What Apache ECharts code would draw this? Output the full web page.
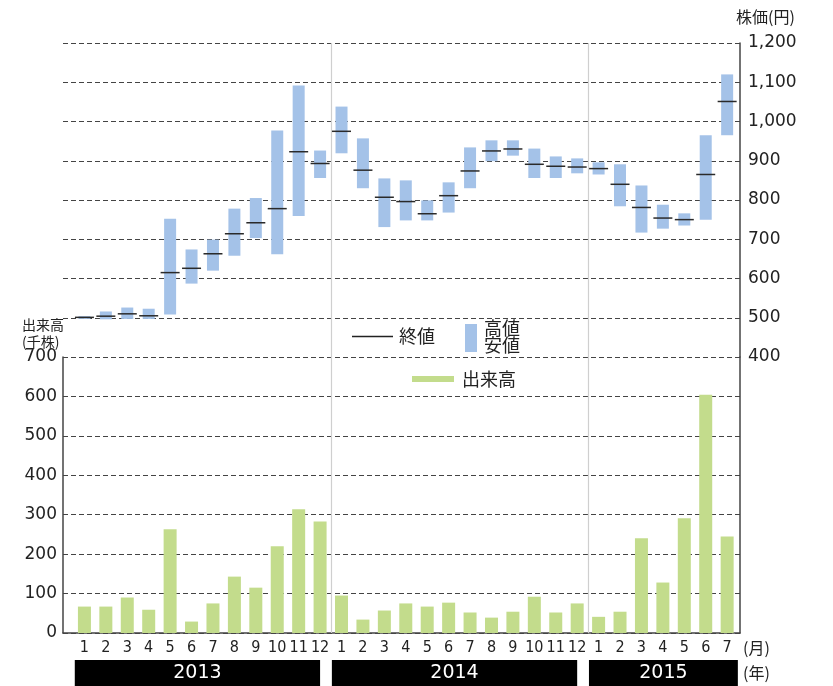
<!DOCTYPE html>
<html><head><meta charset="utf-8">
<script src="https://cdn.jsdelivr.net/npm/echarts@6/dist/echarts.min.js"></script>
<style>html,body{margin:0;padding:0;background:#fff}#c{width:833px;height:686px}</style>
</head><body><div id="c"></div>
<script>
// ---- data ----
const months = ['1','2','3','4','5','6','7','8','9','10','11','12',
                '1','2','3','4','5','6','7','8','9','10','11','12',
                '1','2','3','4','5','6','7'];
const years = ['2013','2014','2015'];
const yearMonths = [12, 12, 7];
const high  = [504,516,526,523,752,674,699,778,805,977,1092,926,1038,957,855,850,799,845,934,952,952,931,911,906,896,891,837,788,766,965,1120];
const low   = [497,496,497,497,508,587,620,658,703,662,759,856,919,830,731,748,748,768,830,899,913,856,856,868,865,784,717,727,735,750,965];
const close = [501,504,510,505,615,626,663,714,742,778,923,893,975,876,807,796,765,811,874,925,930,891,886,884,880,840,781,754,750,865,1051];
const volume = [67,67,90,59,263,29,75,143,115,220,314,283,95,34,57,75,67,77,52,39,54,92,52,75,41,54,240,128,291,604,245];
const priceTicks = {min: 400, max: 1200, interval: 100};
const volumeTicks = {min: 0, max: 700, interval: 100};

// ---- derived ----
const hlData = months.map((m, i) => [i, high[i], low[i]]);
const closeData = months.map((m, i) => [i, close[i]]);
const volData = months.map((m, i) => [i, volume[i]]);
const boundaries = [];
const yearBoxes = [];
let acc = 0;
years.forEach((y, k) => {
  const first = acc, last = acc + yearMonths[k] - 1;
  acc += yearMonths[k];
  if (k < years.length - 1) boundaries.push([acc - 0.5]);
  yearBoxes.push([first, last, y]);
});
const boxData = yearBoxes.map((b, k) => {
  const start = b[0] - 0.45;
  const end = k < yearBoxes.length - 1 ? yearBoxes[k + 1][0] - 0.45 - 0.55 : b[1] + 0.5;
  return [start, end, b[2]];
});

const BLUE = '#a4c2e8', GREEN = '#c3dc8c', AX = '#444';
const LATIN = "'DejaVu Sans', 'Noto Sans CJK JP', sans-serif";
const CJK = "'Noto Sans CJK JP', sans-serif";
const XMIN = -1, XMAX = 30.6;
const dash = {color: AX, width: 1, type: [5, 3]};
const axLine = {show: true, onZero: false, lineStyle: {color: AX, width: 1.5}};

const chart = echarts.init(document.getElementById('c'), null, {renderer: 'canvas'});
chart.setOption({
  animation: false,
  backgroundColor: '#fff',
  grid: [
    {left: 63, top: 43, width: 677, height: 314, outerBoundsMode: 'none'},
    {left: 63, top: 357, width: 677, height: 276, outerBoundsMode: 'none'},
    {left: 63, top: 660, width: 677, height: 26, outerBoundsMode: 'none'}
  ],
  xAxis: [
    {gridIndex: 0, type: 'value', min: XMIN, max: XMAX, show: false},
    {gridIndex: 1, type: 'value', min: XMIN, max: XMAX, interval: 1, position: 'bottom',
      axisLine: axLine,
      axisTick: {show: false}, splitLine: {show: false},
      axisLabel: {margin: 7, color: '#222', fontSize: 16,
        fontFamily: "'Liberation Sans Narrow', 'DejaVu Sans Condensed', 'Roboto Condensed', 'Noto Sans', sans-serif",
        showMinLabel: true, showMaxLabel: true, hideOverlap: false,
        formatter: v => (Number.isInteger(v) && v >= 0 && v < months.length) ? months[v] : ''}},
    {gridIndex: 2, type: 'value', min: XMIN, max: XMAX, show: false}
  ],
  yAxis: [
    {gridIndex: 0, type: 'value', position: 'right', min: priceTicks.min, max: priceTicks.max, interval: priceTicks.interval,
      axisLine: axLine, axisTick: {show: false},
      splitLine: {show: true, lineStyle: dash},
      axisLabel: {margin: 8, color: '#222', fontSize: 17, fontFamily: LATIN,
        formatter: v => v.toLocaleString('en-US')}},
    {gridIndex: 1, type: 'value', position: 'left', min: volumeTicks.min, max: volumeTicks.max, interval: volumeTicks.interval,
      axisLine: axLine, axisTick: {show: false},
      splitLine: {show: true, lineStyle: dash},
      axisLabel: {margin: 6, color: '#222', fontSize: 17, fontFamily: LATIN}},
    {gridIndex: 1, type: 'value', position: 'right', min: volumeTicks.min, max: volumeTicks.max,
      axisLine: axLine, axisTick: {show: false},
      splitLine: {show: false}, axisLabel: {show: false}},
    {gridIndex: 2, type: 'value', min: 0, max: 1, show: false}
  ],
  series: [
    {type: 'custom', name: 'sep0', xAxisIndex: 0, yAxisIndex: 0, data: boundaries, z: 1, silent: true,
      renderItem: (params, api) => {
        const cs = params.coordSys;
        const x = Math.round(api.coord([api.value(0), priceTicks.min])[0]) + 0.5;
        return {type: 'line', shape: {x1: x, y1: cs.y, x2: x, y2: cs.y + cs.height},
          style: {stroke: '#cfcfcf', lineWidth: 1.2}};
      }},
    {type: 'custom', name: 'sep1', xAxisIndex: 1, yAxisIndex: 1, data: boundaries, z: 1, silent: true,
      renderItem: (params, api) => {
        const cs = params.coordSys;
        const x = Math.round(api.coord([api.value(0), 0])[0]) + 0.5;
        return {type: 'line', shape: {x1: x, y1: cs.y, x2: x, y2: cs.y + cs.height},
          style: {stroke: '#cfcfcf', lineWidth: 1.2}};
      }},
    {type: 'custom', name: '高値安値', xAxisIndex: 0, yAxisIndex: 0, data: hlData, z: 3,
      encode: {x: 0, y: [1, 2]},
      renderItem: (params, api) => {
        const p1 = api.coord([api.value(0), api.value(1)]);
        const p2 = api.coord([api.value(0), api.value(2)]);
        return {type: 'rect', shape: {x: p1[0] - 6, y: p1[1], width: 12, height: p2[1] - p1[1]},
          style: {fill: BLUE}};
      }},
    {type: 'custom', name: '終値', xAxisIndex: 0, yAxisIndex: 0, data: closeData, z: 4,
      encode: {x: 0, y: 1},
      renderItem: (params, api) => {
        const p = api.coord([api.value(0), api.value(1)]);
        return {type: 'line', shape: {x1: p[0] - 9.5, y1: p[1], x2: p[0] + 9.5, y2: p[1]},
          style: {stroke: '#2a2a2a', lineWidth: 1.5}};
      }},
    {type: 'bar', name: '出来高', xAxisIndex: 1, yAxisIndex: 1, data: volData, barWidth: 13, z: 3,
      itemStyle: {color: GREEN}},
    {type: 'custom', name: 'years', xAxisIndex: 2, yAxisIndex: 3, data: boxData, silent: true,
      renderItem: (params, api) => {
        const a = api.coord([api.value(0), 1]);
        const b = api.coord([api.value(1), 0]);
        const name = boxData[params.dataIndex][2];
        return {type: 'group', children: [
          {type: 'rect', shape: {x: a[0], y: a[1], width: b[0] - a[0], height: b[1] - a[1]}, style: {fill: '#000'}},
          {type: 'text', style: {text: name, x: (a[0] + b[0]) / 2, y: (a[1] + b[1]) / 2 + 0.5,
            align: 'center', verticalAlign: 'middle', textAlign: 'center', textVerticalAlign: 'middle',
            fill: '#fff', font: '19px ' + LATIN}}
        ]};
      }}
  ],
  graphic: [
    {type: 'text', x: 736, y: 17, style: {text: '株価(円)', font: '16px ' + CJK, fill: '#222', verticalAlign: 'middle', textVerticalAlign: 'middle'}},
    {type: 'text', x: 22, y: 316, style: {text: '出来高\n(千株)', font: '14px ' + CJK, lineHeight: 17, fill: '#222'}},
    {type: 'line', shape: {x1: 352, y1: 336.5, x2: 393, y2: 336.5}, style: {stroke: '#222', lineWidth: 1.5}},
    {type: 'text', x: 399, y: 336, style: {text: '終値', font: '18px ' + CJK, fill: '#222', verticalAlign: 'middle', textVerticalAlign: 'middle'}},
    {type: 'rect', shape: {x: 465, y: 324, width: 12, height: 28}, style: {fill: BLUE}},
    {type: 'text', x: 484, y: 320, style: {text: '高値\n安値', font: '18px ' + CJK, lineHeight: 17, fill: '#222'}},
    {type: 'rect', shape: {x: 412, y: 376, width: 42, height: 6}, style: {fill: GREEN}},
    {type: 'text', x: 462, y: 379, style: {text: '出来高', font: '18px ' + CJK, fill: '#222', verticalAlign: 'middle', textVerticalAlign: 'middle'}},
    {type: 'text', x: 743, y: 648, style: {text: '(月)', font: '16px ' + CJK, fill: '#222', verticalAlign: 'middle', textVerticalAlign: 'middle'}},
    {type: 'text', x: 743, y: 673, style: {text: '(年)', font: '16px ' + CJK, fill: '#222', verticalAlign: 'middle', textVerticalAlign: 'middle'}}
  ]
});
</script>
</body></html>
